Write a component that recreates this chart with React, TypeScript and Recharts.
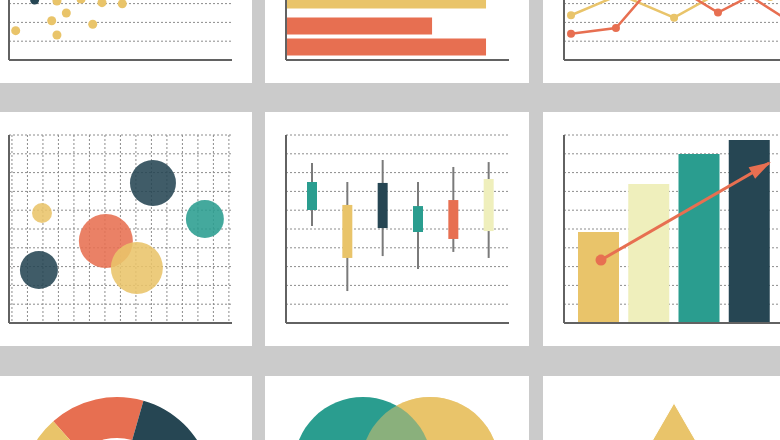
import React from "react";
import {
  ScatterChart,
  Scatter,
  XAxis,
  YAxis,
  ZAxis,
  CartesianGrid,
  Cell,
  BarChart,
  Bar,
  LineChart,
  Line,
  ComposedChart,
  PieChart,
  Pie,
  FunnelChart,
  Funnel,
} from "recharts";

const YELLOW = "#e9c46a";
const RED = "#e76f51";
const NAVY = "#264653";
const TEAL = "#2a9d8f";
const CREAM = "#efefbc";
const AXIS = "#626262";
const GRID = "#8c8c8c";

// top left: dot plot
const dotX = [0.6, 4.3, 5.14, 3.83, 4.3, 6.46, 7.51, 8.34, 10.16];
const dotY = [1.56, 3.14, 2.5, 2.09, 1.33, 3.24, 1.9, 3.05, 2.99];
const darkDotX = [2.3];
const darkDotY = [3.19];

// top middle: horizontal bars
const barRows = ["A", "B", "C", "D"];
const barFirst = [5.2, 7.0, 7.6, 6.55];
const barSecond = [8.1, 4.3, 8.97, 8.97];
const barRowColors = [TEAL, NAVY, YELLOW, RED];

// top right: two lines
const redLineX = [0.63, 4.66, 8.61, 13.81, 16.68, 20];
const redLineY = [1.4, 1.7, 4.41, 2.52, 3.4, 2.14];
const yellowLineX = [0.63, 5.02, 9.87, 14.17, 18.48];
const yellowLineY = [2.38, 3.48, 2.25, 3.67, 3.35];

// middle left: bubbles
const bubbleX = [1.94, 1.74, 6.06, 8.06, 9.1, 12.45];
const bubbleY = [5.85, 2.82, 4.36, 2.93, 7.45, 5.53];
const bubbleSize = [314, 1134, 2290, 2124, 1662, 1134];
const bubbleColors = [YELLOW, NAVY, RED, YELLOW, NAVY, TEAL];

// middle: candlesticks
const candleNames = ["Mon", "Tue", "Wed", "Thu", "Fri", "Sat"];
const candleLow = [5.16, 1.7, 3.56, 2.87, 3.78, 3.46];
const candleHigh = [8.51, 7.5, 8.67, 7.5, 8.3, 8.56];
const candleBottom = [6.01, 3.46, 5.05, 4.84, 4.47, 4.89];
const candleTop = [7.5, 6.28, 7.45, 6.22, 6.54, 7.66];
const candleColors = [TEAL, YELLOW, NAVY, TEAL, RED, CREAM];

// middle right: growth bars with arrow
const growthYears = ["2015", "2016", "2017", "2018"];
const growthValues = [4.84, 7.39, 8.99, 9.73];
const growthColors = [YELLOW, CREAM, TEAL, NAVY];
const arrowX = [1.05, 4.4];
const arrowY = [3.35, 8.51];

// bottom left: donut
const donutNames = ["a", "b", "c", "d"];
const donutValues = [16, 28, 25, 31];
const donutColors = [RED, YELLOW, TEAL, NAVY];

// bottom middle: venn
const vennX = [3.45, 6.46];
const vennY = [6.44, 6.44];

// bottom right: pyramid
const pyramidNames = ["base", "low", "mid", "top"];
const pyramidValues = [4, 3, 2, 1];
const pyramidColors = [NAVY, TEAL, RED, YELLOW];

const dots = dotX.map((x, i) => ({ x, y: dotY[i] }));
const darkDots = darkDotX.map((x, i) => ({ x, y: darkDotY[i] }));
const hbars = barRows.map((name, i) => ({ name, a: barFirst[i], b: barSecond[i] }));
const redLine = redLineX.map((x, i) => ({ x, y: redLineY[i] }));
const yellowLine = yellowLineX.map((x, i) => ({ x, y: yellowLineY[i] }));
const bubbles = bubbleX.map((x, i) => ({ x, y: bubbleY[i], z: bubbleSize[i] }));
const candles = candleNames.map((name, i) => ({
  name,
  wick: [candleLow[i], candleHigh[i]],
  body: [candleBottom[i], candleTop[i]],
}));
const growth = growthYears.map((name, i) => ({ name, v: growthValues[i] }));
const arrow = arrowX.map((x, i) => ({ x, y: arrowY[i] }));
const donut = donutNames.map((name, i) => ({ name, value: donutValues[i] }));
const venn = vennX.map((x, i) => ({ x, y: vennY[i], z: 1 }));
const pyramid = pyramidNames.map((name, i) => ({ name, value: pyramidValues[i] }));

const W = 264;
const H = 234;
const M = { top: 23, right: 20, bottom: 22, left: 20 };
const TEN = [1, 2, 3, 4, 5, 6, 7, 8, 9, 10];
const FIFTEEN = [0, 1, 2, 3, 4, 5, 6, 7, 8, 9, 10, 11, 12, 13, 14];
const COLS = [-12, 265, 543];
const ROWS = [-151, 112, 376];

const xLine = { axisLine: { stroke: AXIS, strokeWidth: 2 }, tick: false, tickLine: false, height: 1, interval: 0 };
const yLine = { axisLine: { stroke: AXIS, strokeWidth: 2 }, tick: false, tickLine: false, width: 1, interval: 0 };

// grid lines placed at given axis values, through the axis scale
const rowsAt = (values: number[], domain: [number, number]) => (p: any) => {
  const s = p && p.yAxis && typeof p.yAxis.scale === "function" ? p.yAxis.scale : null;
  if (s) return values.map((v) => s(v));
  const o = p.offset;
  return values.map((v) => o.top + o.height * (1 - (v - domain[0]) / (domain[1] - domain[0])));
};
const colsAt = (values: number[], domain: [number, number]) => (p: any) => {
  const s = p && p.xAxis && typeof p.xAxis.scale === "function" ? p.xAxis.scale : null;
  if (s) return values.map((v) => s(v));
  const o = p.offset;
  return values.map((v) => o.left + (o.width * (v - domain[0])) / (domain[1] - domain[0]));
};

function Panel({ col, row, children }: { col: number; row: number; children: React.ReactNode }) {
  return (
    <div style={{ position: "absolute", left: COLS[col], top: ROWS[row], width: W, height: H, background: "#fff" }}>
      {children}
    </div>
  );
}

const ArrowEnds = (props: any) => {
  const { cx, cy, index, points } = props;
  if (index === 0) return <circle key="start" cx={cx} cy={cy} r={5.5} fill={RED} />;
  const prev = points && points[index - 1];
  const ang = prev ? Math.atan2(cy - prev.y, cx - prev.x) : -Math.PI / 6;
  const len = 20;
  const half = 6.5;
  const bx = cx - len * Math.cos(ang);
  const by = cy - len * Math.sin(ang);
  const px = -Math.sin(ang) * half;
  const py = Math.cos(ang) * half;
  return (
    <polygon
      key="end"
      points={`${cx + 2 * Math.cos(ang)},${cy + 2 * Math.sin(ang)} ${bx + px},${by + py} ${bx - px},${by - py}`}
      fill={RED}
    />
  );
};

export default function App() {
  return (
    <div
      style={{
        position: "absolute",
        left: 0,
        top: 0,
        width: 780,
        height: 440,
        overflow: "hidden",
        background: "#cbcbcb",
      }}
    >
      {/* dot plot */}
      <Panel col={0} row={0}>
        <ScatterChart width={W} height={H} margin={M}>
          <CartesianGrid
            vertical={false}
            stroke={GRID}
            strokeDasharray="2 2"
            horizontalCoordinatesGenerator={rowsAt(TEN, [0, 10])}
          />
          <XAxis type="number" dataKey="x" domain={[0, 20]} {...xLine} />
          <YAxis type="number" dataKey="y" domain={[0, 10]} {...yLine} />
          <ZAxis range={[64, 64]} />
          <Scatter data={dots} fill={YELLOW} isAnimationActive={false} />
          <Scatter data={darkDots} fill={NAVY} isAnimationActive={false} />
        </ScatterChart>
      </Panel>

      {/* horizontal bars */}
      <Panel col={1} row={0}>
        <BarChart width={W} height={H} margin={M} data={hbars} layout="vertical" barCategoryGap={4.5} barGap={4}>
          <XAxis type="number" domain={[0, 10]} {...xLine} />
          <YAxis type="category" dataKey="name" {...yLine} />
          <Bar dataKey="a" isAnimationActive={false}>
            {hbars.map((d, i) => (
              <Cell key={d.name} fill={barRowColors[i]} />
            ))}
          </Bar>
          <Bar dataKey="b" isAnimationActive={false}>
            {hbars.map((d, i) => (
              <Cell key={d.name} fill={barRowColors[i]} />
            ))}
          </Bar>
        </BarChart>
      </Panel>

      {/* lines */}
      <Panel col={2} row={0}>
        <LineChart width={W} height={H} margin={M}>
          <CartesianGrid
            vertical={false}
            stroke={GRID}
            strokeDasharray="2 2"
            horizontalCoordinatesGenerator={rowsAt(TEN, [0, 10])}
          />
          <XAxis type="number" dataKey="x" domain={[0, 20]} {...xLine} />
          <YAxis type="number" domain={[0, 10]} {...yLine} />
          <Line
            data={yellowLine}
            dataKey="y"
            stroke={YELLOW}
            strokeWidth={2.5}
            dot={{ r: 4, fill: YELLOW, strokeWidth: 0 }}
            isAnimationActive={false}
          />
          <Line
            data={redLine}
            dataKey="y"
            stroke={RED}
            strokeWidth={2.5}
            dot={{ r: 4, fill: RED, strokeWidth: 0 }}
            isAnimationActive={false}
          />
        </LineChart>
      </Panel>

      {/* bubbles */}
      <Panel col={0} row={1}>
        <ScatterChart width={W} height={H} margin={M}>
          <CartesianGrid
            stroke={GRID}
            strokeDasharray="2 2"
            horizontalCoordinatesGenerator={rowsAt(TEN, [0, 10])}
            verticalCoordinatesGenerator={colsAt(FIFTEEN, [-0.19, 14.2])}
          />
          <XAxis type="number" dataKey="x" domain={[-0.19, 14.2]} {...xLine} />
          <YAxis type="number" dataKey="y" domain={[0, 10]} {...yLine} />
          <ZAxis type="number" dataKey="z" domain={[0, 3000]} range={[0, 3000]} />
          <Scatter data={bubbles} fillOpacity={0.88} isAnimationActive={false}>
            {bubbles.map((d, i) => (
              <Cell key={i} fill={bubbleColors[i]} />
            ))}
          </Scatter>
        </ScatterChart>
      </Panel>

      {/* candlesticks */}
      <Panel col={1} row={1}>
        <ComposedChart width={W} height={H} margin={M} data={candles}>
          <CartesianGrid
            vertical={false}
            stroke={GRID}
            strokeDasharray="2 2"
            horizontalCoordinatesGenerator={rowsAt(TEN, [0, 10])}
          />
          <XAxis dataKey="name" padding={{ left: 8, right: 3 }} {...xLine} />
          <XAxis xAxisId="wick" dataKey="name" padding={{ left: 8, right: 3 }} hide />
          <YAxis type="number" domain={[0, 10]} {...yLine} />
          <Bar xAxisId="wick" dataKey="wick" barSize={2} fill="#7a7a7a" isAnimationActive={false} />
          <Bar dataKey="body" barSize={10} isAnimationActive={false}>
            {candles.map((d, i) => (
              <Cell key={d.name} fill={candleColors[i]} />
            ))}
          </Bar>
        </ComposedChart>
      </Panel>

      {/* growth bars */}
      <Panel col={2} row={1}>
        <ComposedChart width={W} height={H} margin={M} data={growth}>
          <CartesianGrid
            vertical={false}
            stroke={GRID}
            strokeDasharray="2 2"
            horizontalCoordinatesGenerator={rowsAt(TEN, [0, 10])}
          />
          <XAxis dataKey="name" padding={{ left: 9, right: 13 }} {...xLine} />
          <XAxis xAxisId="arrow" type="number" dataKey="x" domain={[0.313, 4.755]} hide />
          <YAxis type="number" domain={[0, 10]} {...yLine} />
          <Bar dataKey="v" barSize={41} isAnimationActive={false}>
            {growth.map((d, i) => (
              <Cell key={d.name} fill={growthColors[i]} />
            ))}
          </Bar>
          <Line
            xAxisId="arrow"
            data={arrow}
            dataKey="y"
            stroke={RED}
            strokeWidth={3}
            dot={ArrowEnds}
            isAnimationActive={false}
          />
        </ComposedChart>
      </Panel>

      {/* donut */}
      <Panel col={0} row={2}>
        <PieChart width={W} height={H} margin={{ top: 0, right: 0, bottom: 0, left: 0 }}>
          <Pie
            data={donut}
            dataKey="value"
            cx={129}
            cy={117}
            innerRadius={55}
            outerRadius={96}
            startAngle={74}
            endAngle={434}
            stroke="none"
            isAnimationActive={false}
          >
            {donut.map((d, i) => (
              <Cell key={d.name} fill={donutColors[i]} />
            ))}
          </Pie>
        </PieChart>
      </Panel>

      {/* venn */}
      <Panel col={1} row={2}>
        <ScatterChart width={W} height={H} margin={{ top: 23, right: 20, bottom: 23, left: 21 }}>
          <XAxis type="number" dataKey="x" domain={[0, 10]} hide />
          <YAxis type="number" dataKey="y" domain={[0, 10]} hide />
          <ZAxis type="number" dataKey="z" domain={[0, 1]} range={[0, 14960]} />
          <Scatter data={[venn[1]]} fill={YELLOW} isAnimationActive={false} />
          <Scatter data={[venn[0]]} fill={TEAL} isAnimationActive={false} />
          <Scatter data={[venn[1]]} fill={YELLOW} fillOpacity={0.5} isAnimationActive={false} />
        </ScatterChart>
      </Panel>

      {/* pyramid */}
      <Panel col={2} row={2}>
        <FunnelChart width={W} height={H} margin={{ top: 27, right: 25.5, bottom: 21, left: 23.5 }}>
          <Funnel
            data={pyramid}
            dataKey="value"
            reversed
            lastShapeType="triangle"
            stroke="#fff"
            isAnimationActive={false}
          >
            {pyramid.map((d, i) => (
              <Cell key={d.name} fill={pyramidColors[i]} />
            ))}
          </Funnel>
        </FunnelChart>
      </Panel>
    </div>
  );
}
